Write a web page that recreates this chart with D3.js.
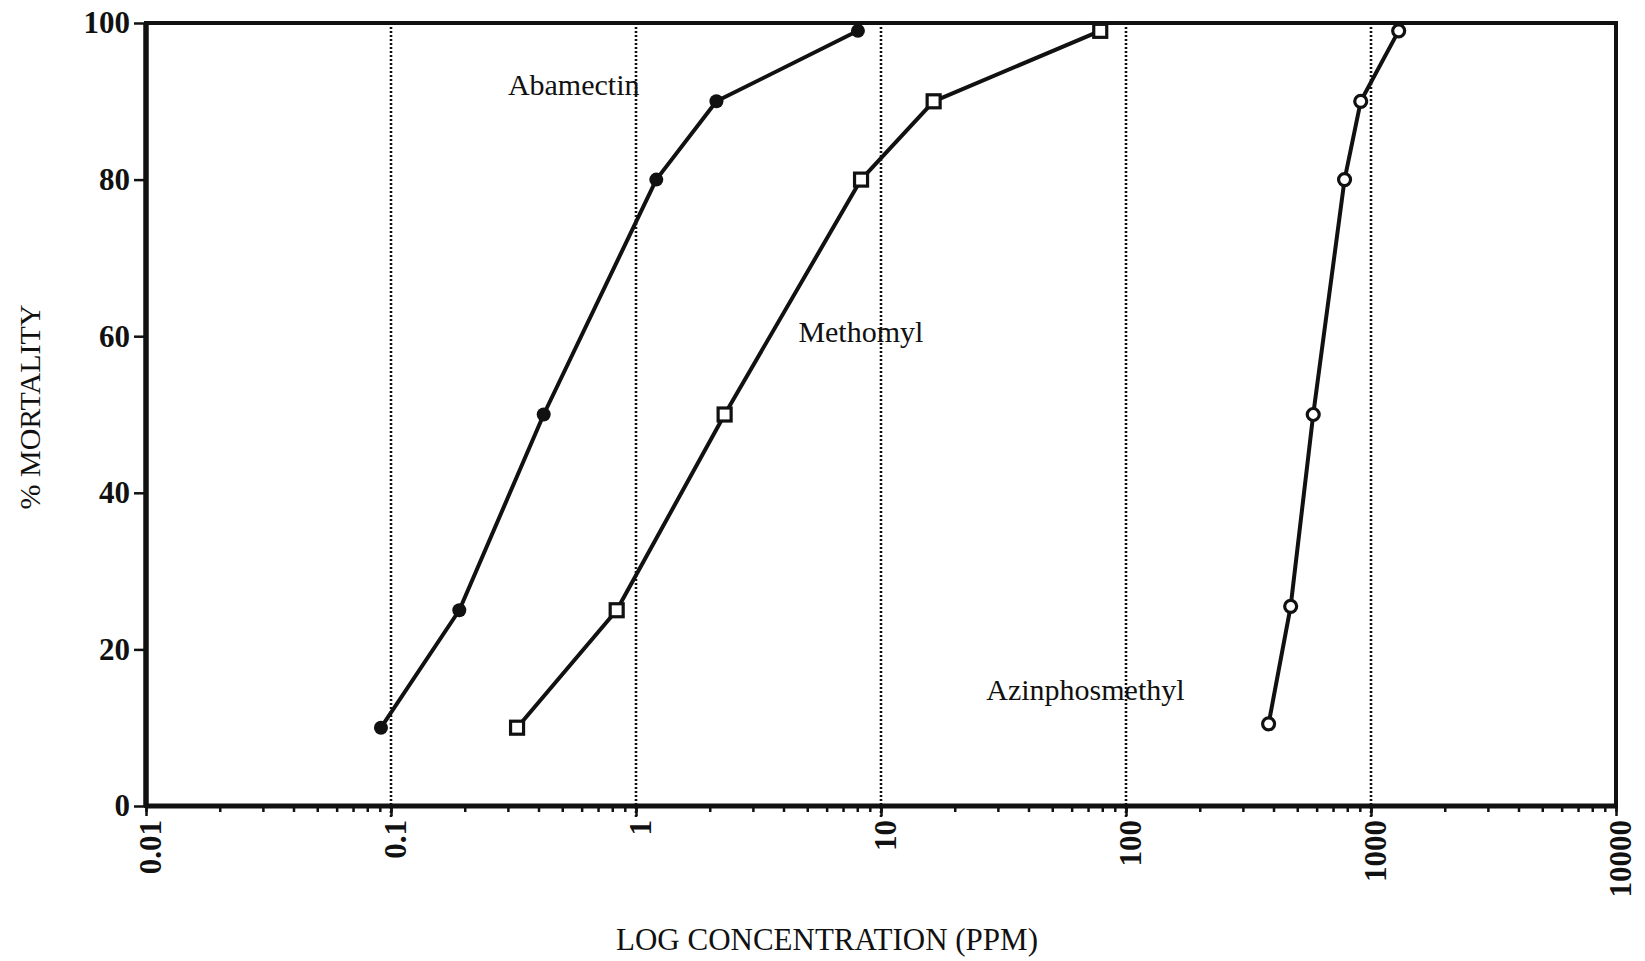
<!DOCTYPE html>
<html lang="en">
<meta charset="utf-8">
<style>
  body { margin: 0; background: #fff; }
  text { font-family: "Liberation Serif", "Times New Roman", serif; fill: #111; }
  .grid line { stroke: #111; stroke-width: 2.6px; stroke-dasharray: 2,2; }
  .series { fill: none; stroke: #111; stroke-width: 4px; stroke-linejoin: round; }
  .axis path { display: none; }
  .axis line { stroke: #111; stroke-width: 2.5px; }
</style>
<script src="https://d3js.org/d3.v7.min.js"></script>
<body>
<div id="chart"></div>
<script>
// concentration (ppm) and % mortality
const abamectinConc = [0.091, 0.19, 0.42, 1.21, 2.13, 8.05]
const abamectinMort = [10, 25, 50, 80, 90, 99]
const methomylConc = [0.327, 0.834, 2.30, 8.29, 16.4, 78.5]
const methomylMort = [10, 25, 50, 80, 90, 99]
const azinphosConc = [382, 470, 581, 780, 908, 1297]
const azinphosMort = [10.5, 25.5, 50, 80, 90, 99]

const xTicks = [0.01, 0.1, 1, 10, 100, 1000, 10000]
const xTickLabels = ["0.01", "0.1", "1", "10", "100", "1000", "10000"]
const yTicks = [0, 20, 40, 60, 80, 100]

const W = 1645, H = 961

const svg = d3.select("#chart").append("svg")
  .attr("width", W)
  .attr("height", H)

const x = d3.scaleLog().domain([0.01, 10000]).range([146, 1616])
const y = d3.scaleLinear().domain([0, 100]).range([806, 23])

// dotted gridlines at the inner decades
svg.append("g").attr("class", "grid")
  .selectAll("line")
  .data(xTicks.slice(1, -1))
  .join("line")
  .attr("x1", d => x(d)).attr("x2", d => x(d))
  .attr("y1", y(100)).attr("y2", y(0) + 11)

// minor ticks
svg.append("g")
  .attr("class", "axis")
  .attr("transform", `translate(0, ${y(0)})`)
  .call(d3.axisBottom(x).tickValues(x.ticks()).tickSize(6).tickFormat(""))

// major ticks + labels
const xAxis = svg.append("g")
  .attr("class", "axis")
  .attr("transform", `translate(0, ${y(0)})`)
  .call(d3.axisBottom(x).tickValues(xTicks).tickSize(10)
    .tickFormat((d, i) => xTickLabels[i]))

xAxis.selectAll("text")
  .attr("transform", "rotate(-90)")
  .attr("text-anchor", "end")
  .attr("x", -14)
  .attr("y", 4)
  .attr("dy", "0.35em")
  .style("font-size", "31px")
  .style("font-weight", "bold")
  .style("font-family", "'Liberation Serif', serif")

const yAxis = svg.append("g")
  .attr("class", "axis")
  .attr("transform", `translate(${x(0.01)}, 0)`)
  .call(d3.axisLeft(y).tickValues(yTicks).tickSize(12).tickPadding(4))

yAxis.selectAll("text")
  .style("font-size", "31px")
  .style("font-weight", "bold")
  .style("font-family", "'Liberation Serif', serif")

// frame
svg.append("rect")
  .attr("x", x(0.01)).attr("y", y(100))
  .attr("width", x(10000) - x(0.01))
  .attr("height", y(0) - y(100))
  .attr("fill", "none")
  .attr("stroke", "#111")
  .attr("stroke-width", 4)
svg.append("line")
  .attr("x1", x(0.01)).attr("x2", x(0.01))
  .attr("y1", y(100)).attr("y2", y(0))
  .attr("stroke", "#111").attr("stroke-width", 5.5)
svg.append("line")
  .attr("x1", x(0.01)).attr("x2", x(10000))
  .attr("y1", y(0)).attr("y2", y(0))
  .attr("stroke", "#111").attr("stroke-width", 5)

const line = d3.line()
  .x(d => x(d[0]))
  .y(d => y(d[1]))

const abamectin = d3.zip(abamectinConc, abamectinMort)
const methomyl = d3.zip(methomylConc, methomylMort)
const azinphos = d3.zip(azinphosConc, azinphosMort)

for (const s of [abamectin, methomyl, azinphos]) {
  svg.append("path").attr("class", "series").attr("d", line(s))
}

// markers
svg.append("g").selectAll("circle")
  .data(abamectin).join("circle")
  .attr("cx", d => x(d[0])).attr("cy", d => y(d[1]))
  .attr("r", 7).attr("fill", "#111")

svg.append("g").selectAll("rect")
  .data(methomyl).join("rect")
  .attr("x", d => x(d[0]) - 6.5).attr("y", d => y(d[1]) - 6.5)
  .attr("width", 13).attr("height", 13)
  .attr("fill", "#fff").attr("stroke", "#111").attr("stroke-width", 3.2)

svg.append("g").selectAll("circle")
  .data(azinphos).join("circle")
  .attr("cx", d => x(d[0])).attr("cy", d => y(d[1]))
  .attr("r", 6)
  .attr("fill", "#fff").attr("stroke", "#111").attr("stroke-width", 3.2)

// series names
const names = [
  { text: "Abamectin", at: [0.30, 90.8] },
  { text: "Methomyl", at: [4.6, 59.3] },
  { text: "Azinphosmethyl", at: [26.9, 13.5] }
]
svg.append("g").selectAll("text")
  .data(names).join("text")
  .attr("x", d => x(d.at[0]))
  .attr("y", d => y(d.at[1]))
  .style("font-size", "30px")
  .text(d => d.text)

// axis titles
svg.append("text")
  .attr("x", 827)
  .attr("y", 950)
  .attr("text-anchor", "middle")
  .style("font-size", "31px")
  .text("LOG CONCENTRATION (PPM)")

svg.append("text")
  .attr("transform", `translate(29, 407) rotate(-90)`)
  .attr("text-anchor", "middle")
  .attr("dy", "0.35em")
  .style("font-size", "30px")
  .text("% MORTALITY")
</script>
</body>
</html>
